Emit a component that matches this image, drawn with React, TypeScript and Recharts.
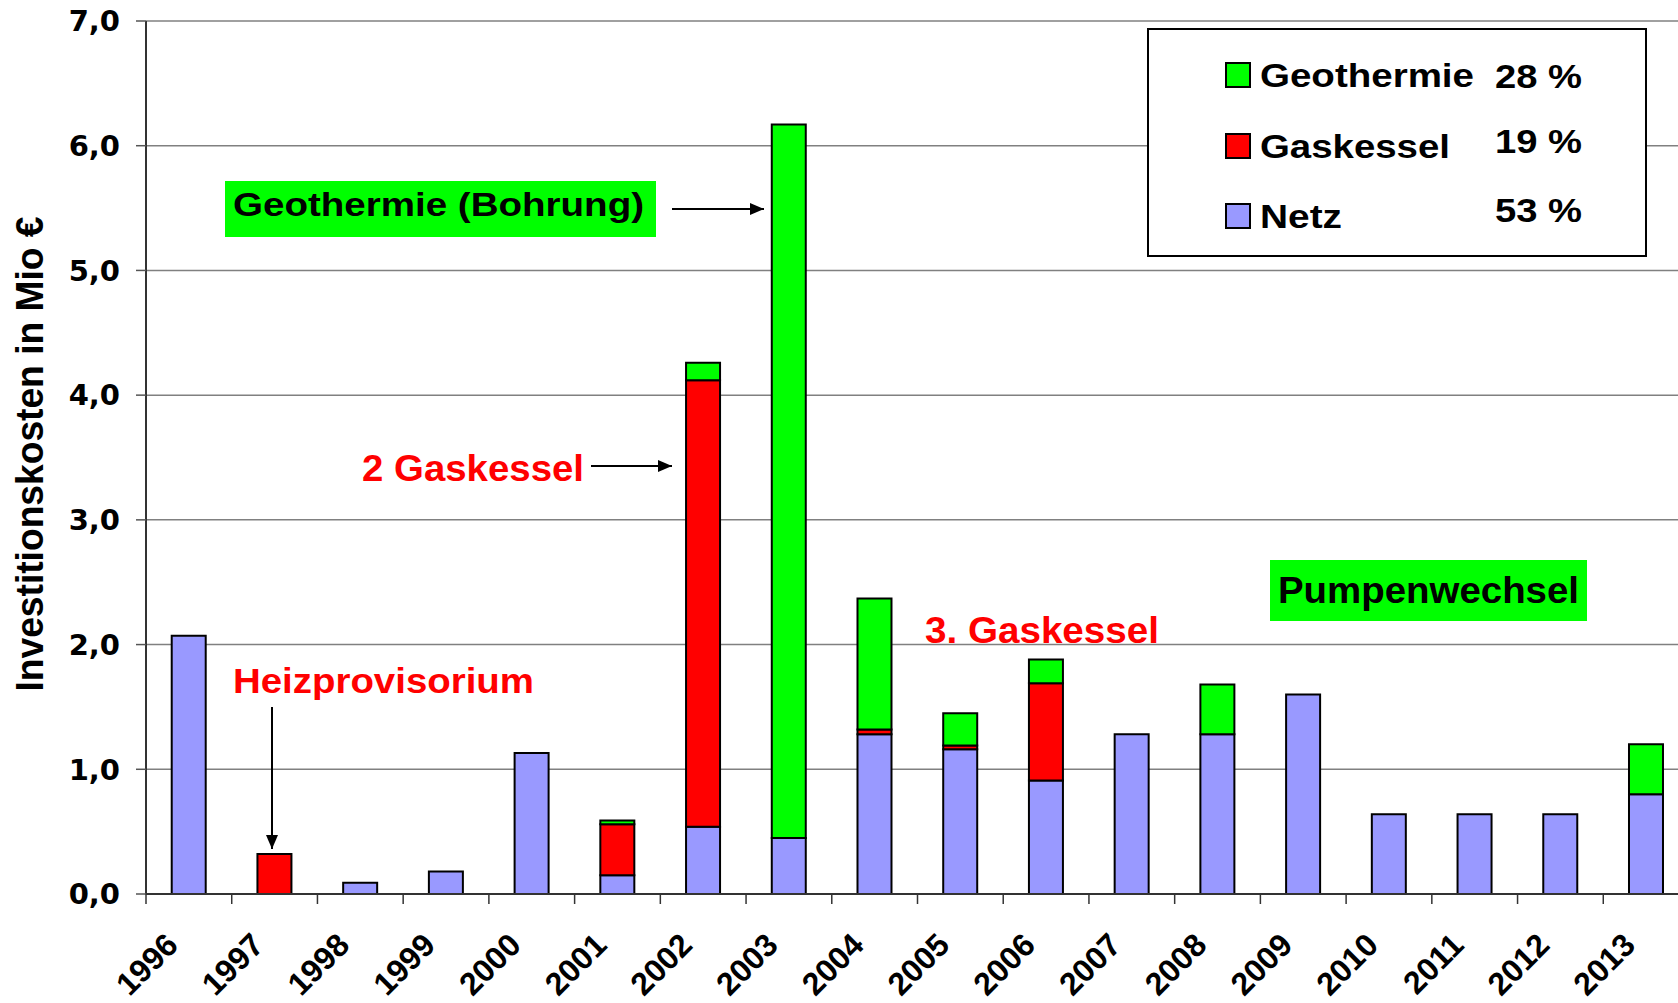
import { BarChart, Bar, XAxis, YAxis, CartesianGrid } from "recharts"

const years = ["1996", "1997", "1998", "1999", "2000", "2001", "2002", "2003", "2004", "2005", "2006", "2007", "2008", "2009", "2010", "2011", "2012", "2013"]
const netz = [2.07, 0, 0.09, 0.18, 1.13, 0.15, 0.54, 0.45, 1.28, 1.16, 0.91, 1.28, 1.28, 1.6, 0.64, 0.64, 0.64, 0.8]
const gaskessel = [0, 0.32, 0, 0, 0, 0.41, 3.58, 0, 0.04, 0.03, 0.78, 0, 0, 0, 0, 0, 0, 0]
const geothermie = [0, 0, 0, 0, 0, 0.03, 0.14, 5.72, 1.05, 0.26, 0.19, 0, 0.4, 0, 0, 0, 0, 0.4]

const yTicks = [0, 1, 2, 3, 4, 5, 6, 7]
const legendNames = ["Geothermie", "Gaskessel", "Netz"]
const legendColors = ["#00FF00", "#FF0000", "#9999FF"]
const legendShares = ["28 %", "19 %", "53 %"]

const data = years.map((year, i) => ({
  year,
  netz: netz[i],
  gaskessel: gaskessel[i],
  geothermie: geothermie[i],
}))

const CHART_W = 1700
const PLOT_LEFT = 146
const MARGIN_RIGHT = 11
const BAND = (CHART_W - PLOT_LEFT - MARGIN_RIGHT) / years.length

const SANS = 'Arial, "Liberation Sans", Helvetica, sans-serif'

const YearTick = (props: any) => {
  const { x, y, payload } = props
  const tx = x - 9
  const ty = y + 53
  return (
    <g>
      <line x1={x - BAND / 2} y1={y} x2={x - BAND / 2} y2={y + 10} stroke="#333" strokeWidth={1.5} />
      <text
        x={tx}
        y={ty}
        transform={`rotate(-45, ${tx}, ${ty})`}
        textAnchor="end"
        fontFamily={SANS}
        fontWeight="bold"
        fontSize={32}
        fill="#000"
      >
        {payload.value}
      </text>
    </g>
  )
}

const Txt = ({ x, y, size, len, fill = "#000", children }: any) => (
  <text
    x={x}
    y={y}
    fontFamily={SANS}
    fontWeight="bold"
    fontSize={size}
    fill={fill}
    textLength={len}
    lengthAdjust="spacingAndGlyphs"
  >
    {children}
  </text>
)

function Overlay() {
  const rowBase = [87, 158, 228]
  const pctBase = [88, 153, 222]
  const nameLen = [214, 190, 82]
  return (
    <svg
      width={1678}
      height={1003}
      style={{ position: "absolute", left: 0, top: 0, pointerEvents: "none" }}
    >
      <defs>
        <marker id="arrowhead" markerUnits="userSpaceOnUse" markerWidth="14" markerHeight="12" refX="14" refY="6" orient="auto">
          <path d="M0,0 L14,6 L0,12 z" fill="#000" />
        </marker>
      </defs>

      {/* y axis title */}
      <text
        x={43}
        y={454}
        transform="rotate(-90, 43, 454)"
        textAnchor="middle"
        fontFamily={SANS}
        fontWeight="bold"
        fontSize={39}
        textLength={475}
        lengthAdjust="spacingAndGlyphs"
        fill="#000"
      >
        Investitionskosten in Mio €
      </text>

      {/* legend */}
      <rect x={1148} y={29} width={498} height={227} fill="#fff" stroke="#000" strokeWidth={2} />
      {legendNames.map((name, i) => (
        <g key={name}>
          <rect x={1226} y={rowBase[i] - 24} width={24} height={24} fill={legendColors[i]} stroke="#000" strokeWidth={2} />
          <Txt x={1260} y={rowBase[i]} size={34} len={nameLen[i]}>{name}</Txt>
          <Txt x={1495} y={pctBase[i]} size={34} len={87}>{legendShares[i]}</Txt>
        </g>
      ))}

      {/* annotations */}
      <rect x={225} y={181} width={431} height={56} fill="#00FF00" />
      <Txt x={233} y={216} size={33} len={411}>Geothermie (Bohrung)</Txt>
      <line x1={672} y1={209} x2={764} y2={209} stroke="#000" strokeWidth={2} markerEnd="url(#arrowhead)" />

      <Txt x={362} y={481} size={37} len={222} fill="#FF0000">2 Gaskessel</Txt>
      <line x1={591} y1={466} x2={672} y2={466} stroke="#000" strokeWidth={2} markerEnd="url(#arrowhead)" />

      <Txt x={233} y={693} size={35} len={301} fill="#FF0000">Heizprovisorium</Txt>
      <line x1={272} y1={707} x2={272} y2={849} stroke="#000" strokeWidth={2} markerEnd="url(#arrowhead)" />

      <Txt x={925} y={643} size={37} len={234} fill="#FF0000">3. Gaskessel</Txt>

      <rect x={1270} y={560} width={317} height={61} fill="#00FF00" />
      <Txt x={1278} y={603} size={36} len={301}>Pumpenwechsel</Txt>
    </svg>
  )
}

export default function App() {
  return (
    <div
      style={{
        position: "absolute",
        left: 0,
        top: 0,
        width: 1678,
        height: 1003,
        overflow: "hidden",
        background: "#fff",
      }}
    >
      <BarChart
        width={CHART_W}
        height={1003}
        data={data}
        margin={{ top: 21, right: MARGIN_RIGHT, left: 0, bottom: 0 }}
        barCategoryGap="30%"
      >
        <CartesianGrid vertical={false} stroke="#808080" strokeWidth={1.5} />
        <XAxis
          dataKey="year"
          height={109}
          interval={0}
          tickSize={0}
          tickMargin={0}
          tickLine={false}
          axisLine={{ stroke: "#333", strokeWidth: 2 }}
          tick={<YearTick />}
        />
        <YAxis
          width={PLOT_LEFT}
          domain={[0, 7]}
          ticks={yTicks}
          interval={0}
          tickSize={10}
          tickMargin={16}
          tickLine={{ stroke: "#555", strokeWidth: 1.5 }}
          axisLine={{ stroke: "#333", strokeWidth: 2 }}
          tickFormatter={(v: number) => v.toFixed(1).replace(".", ",")}
          tick={{ fill: "#000", fontFamily: '"DejaVu Sans", Verdana, sans-serif', fontWeight: "bold", fontSize: 29 }}
        />
        <Bar dataKey="netz" stackId="a" fill="#9999FF" stroke="#000" strokeWidth={2} isAnimationActive={false} />
        <Bar dataKey="gaskessel" stackId="a" fill="#FF0000" stroke="#000" strokeWidth={2} isAnimationActive={false} />
        <Bar dataKey="geothermie" stackId="a" fill="#00FF00" stroke="#000" strokeWidth={2} isAnimationActive={false} />
      </BarChart>
      <Overlay />
    </div>
  )
}
